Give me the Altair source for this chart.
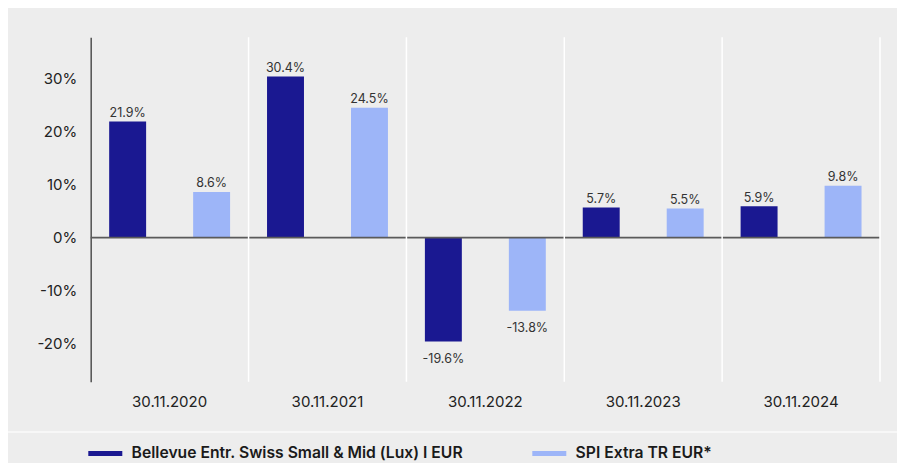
import altair as alt
import pandas as pd

dates = ["30.11.2020", "30.11.2021", "30.11.2022", "30.11.2023", "30.11.2024"]
series_names = ["Bellevue Entr. Swiss Small & Mid (Lux) I EUR", "SPI Extra TR EUR*"]
fund_values = [21.9, 30.4, -19.6, 5.7, 5.9]
index_values = [8.6, 24.5, -13.8, 5.5, 9.8]
y_ticks = [-20, -10, 0, 10, 20, 30]
colors = ["#1a1891", "#9db5f8"]

rows = []
for d, f, i in zip(dates, fund_values, index_values):
    rows.append({"date": d, "series": series_names[0], "value": f, "label": f"{f:.1f}%"})
    rows.append({"date": d, "series": series_names[1], "value": i, "label": f"{i:.1f}%"})
df = pd.DataFrame(rows)
cats = pd.DataFrame({"date": dates})

FONT = "Inter"
W, H = 789.3, 344.4

x_scale = alt.Scale(domain=dates, paddingInner=0, paddingOuter=0)
x_enc = alt.X("date:N", sort=dates, scale=x_scale,
              axis=alt.Axis(title=None, labelAngle=0, ticks=False, domain=False, grid=False,
                            bandPosition=0.5, labelAlign="center",
                            labelFont=FONT, labelFontSize=15, labelColor="#222222",
                            labelPadding=13))
x_plain = alt.X("date:N", sort=dates, scale=x_scale, axis=None)
y_scale = alt.Scale(domain=[-27.2, 37.8], nice=False, zero=False)
xoff = alt.XOffset("series:N", sort=series_names,
                   scale=alt.Scale(paddingInner=0.56, paddingOuter=0.22))

base = alt.Chart(df)

bars = base.mark_bar().encode(
    x=x_enc,
    xOffset=xoff,
    y=alt.Y("value:Q", scale=y_scale,
            axis=alt.Axis(title=None, values=y_ticks, labelExpr="datum.value + '%'",
                          ticks=False, tickSize=0, grid=False, domainColor="#5a5a5a",
                          domainWidth=1.6, labelFont=FONT, labelFontSize=15,
                          labelColor="#222222", labelPadding=14)),
    color=alt.Color("series:N", sort=series_names,
                    scale=alt.Scale(domain=series_names, range=colors),
                    legend=alt.Legend(title=None, orient="none", legendX=-2.4, legendY=399,
                                      direction="horizontal",
                                      symbolType="M-1,-0.147L1,-0.147L1,0.147L-1,0.147Z",
                                      symbolSize=1156, symbolStrokeWidth=0,
                                      labelFont=FONT, labelFontSize=15.7, labelFontWeight=600,
                                      labelColor="#1a1a1a", labelOffset=9.3,
                                      columnPadding=69, labelLimit=600, padding=0)),
)

pos_text = base.transform_filter("datum.value >= 0").mark_text(
    baseline="alphabetic", dy=-4.7, font=FONT, fontSize=12.5, color="#333333"
).encode(x=x_plain, xOffset=xoff, y=alt.Y("value:Q", scale=y_scale, axis=None), text="label:N")

neg_text = base.transform_filter("datum.value < 0").mark_text(
    baseline="alphabetic", dy=21.6, font=FONT, fontSize=12.5, color="#333333"
).encode(x=x_plain, xOffset=xoff, y=alt.Y("value:Q", scale=y_scale, axis=None), text="label:N")

zero_line = alt.Chart(pd.DataFrame({"z": [0]})).mark_rule(color="#5a5a5a", strokeWidth=1.6).encode(
    y=alt.Y("z:Q", scale=y_scale, axis=None)
)

grid = alt.Chart(cats).mark_rule(color="#ffffff", strokeWidth=1.5).encode(
    x=alt.X("date:N", sort=dates, scale=x_scale, axis=None, bandPosition=1)
)

separator = alt.Chart(cats).mark_rule(color="#f7f7f7", strokeWidth=1.5).encode(
    x=alt.value(-82.7), x2=alt.value(806.3), y=alt.value(394.4)
)

chart = alt.layer(bars, zero_line, grid, pos_text, neg_text, separator).resolve_axis(
    x="independent", y="independent"
).properties(
    width=W, height=H,
    autosize=alt.AutoSizeParams(type="none"),
    padding={"left": 82.7, "top": 29.3, "right": 17, "bottom": 81.3},
    background="#ededed",
).configure_view(stroke=None)

chart.save("out.html", embed_options={"renderer": "svg", "actions": False})
